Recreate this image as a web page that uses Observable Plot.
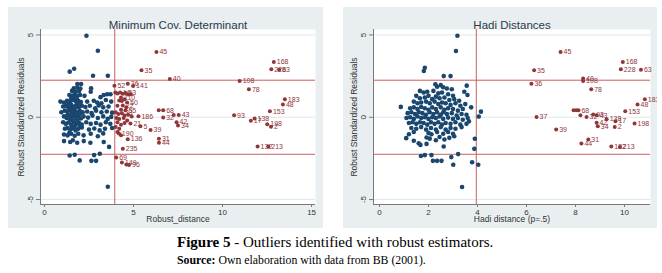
<!DOCTYPE html>
<html><head><meta charset="utf-8">
<script src="https://cdn.jsdelivr.net/npm/d3@7"></script>
<script src="https://cdn.jsdelivr.net/npm/@observablehq/plot@0.6"></script>
<style>
body{margin:0;background:#fff;width:662px;height:273px;position:relative;overflow:hidden;font-family:"Liberation Sans",Arial,sans-serif}
.panel{position:absolute;background:#e9eff1}
.panel svg{display:block}
#fig{position:absolute;left:177px;top:234px;font-family:"Liberation Serif","Times New Roman",serif;font-size:15px;color:#000;white-space:nowrap}
#src{position:absolute;left:177px;top:253px;font-family:"Liberation Serif","Times New Roman",serif;font-size:11.8px;color:#000;white-space:nowrap}
</style></head>
<body>
<div id="p1" class="panel" style="left:8px;top:7px;width:315px;height:221px"></div>
<div id="p2" class="panel" style="left:343px;top:7px;width:314px;height:221px"></div>
<div id="fig"><b>Figure 5</b> - Outliers identified with robust estimators.</div>
<div id="src"><b>Source:</b> Own elaboration with data from BB (2001).</div>
<script>
// ---- data ----
const yTicks = [-5, 0, 5];
const yDomain = [-5.3, 5.33];
const cutoffY = [2.25, -2.25];
const cutoffX = [3.95];
const mcdXTicks = [0, 5, 10, 15];
const mcdXDomain = [-0.22, 15.22];
const hadiXTicks = [0, 2, 4, 6, 8, 10];
const hadiXDomain = [-0.245, 11.06];
const titles = ["Minimum Cov. Determinant", "Hadi Distances"];
const xLabels = ["Robust_distance", "Hadi distance (p=.5)"];
const yLabel = "Robust Standardized Residuals";

const mcdInliers = [
[2.36,4.95],[3.0,4.04],[1.42,2.77],[1.67,2.95],[2.73,2.52],[3.56,2.52],
[1.85,2.02],[2.06,2.02],[1.65,1.76],[1.84,1.8],[2.02,1.75],[2.62,1.76],[2.60,1.55],[1.55,1.6],[1.75,1.55],[1.95,1.6],
[1.4,1.35],[1.55,1.3],[1.7,1.38],[1.85,1.3],[2.0,1.35],[2.25,1.3],[3.15,1.22],[3.33,1.35],[3.52,1.4],[3.71,1.4],
[0.9,0.95],[1.1,0.9],[1.27,1.0],[1.45,0.95],[1.6,1.05],[1.75,0.98],[1.9,1.0],[2.05,0.92],[2.4,0.95],[2.77,1.0],[2.96,0.9],[3.2,0.85],[3.45,1.05],[3.75,0.95],
[1.05,0.65],[1.2,0.7],[1.35,0.6],[1.5,0.75],[1.62,0.65],[1.78,0.72],[1.92,0.6],[2.1,0.7],[2.3,0.62],[2.55,0.7],[2.85,0.55],[3.05,0.72],[3.3,0.6],[3.6,0.65],
[0.95,0.3],[1.15,0.4],[1.3,0.35],[1.45,0.42],[1.55,0.28],[1.7,0.38],[1.82,0.3],[1.98,0.4],[2.15,0.3],[2.4,0.35],[2.65,0.25],[2.9,0.4],[3.2,0.3],[3.5,0.35],[3.8,0.28],
[1.1,0.05],[1.25,-0.05],[1.4,0.1],[1.52,-0.02],[1.65,0.08],[1.78,-0.05],[1.9,0.05],[2.05,-0.08],[2.2,0.05],[2.45,-0.02],[2.7,0.1],[3.0,-0.05],[3.3,0.05],[3.55,-0.1],[3.75,0.02],
[1.05,-0.3],[1.2,-0.4],[1.35,-0.32],[1.5,-0.45],[1.65,-0.3],[1.8,-0.4],[1.95,-0.35],[2.1,-0.45],[2.35,-0.3],[2.6,-0.4],[2.9,-0.35],[3.15,-0.45],[3.45,-0.3],[3.7,-0.4],
[1.15,-0.7],[1.3,-0.65],[1.45,-0.75],[1.6,-0.68],[1.75,-0.8],[1.9,-0.7],[2.1,-0.62],[2.5,-0.75],[2.8,-0.68],[3.1,-0.8],[3.4,-0.7],[3.8,-0.65],
[1.1,-1.05],[1.3,-1.1],[1.5,-1.0],[1.7,-1.12],[1.9,-1.0],[2.2,-1.1],[2.6,-1.0],[3.0,-1.15],[3.3,-0.98],
[1.1,-1.45],[1.45,-1.5],[1.6,-1.4],[1.84,-1.55],[2.21,-1.45],[2.58,-1.55],[3.33,-1.5],[3.63,-1.8],
[1.42,-2.32],[1.70,-2.28],[1.98,-2.62],[2.64,-2.65],[2.90,-2.65],[2.79,-2.3],[3.11,-2.22],[3.56,-4.22],
[1.4,0.55],[1.55,0.5],[1.7,0.55],[1.85,0.85],[1.6,0.2],[1.75,0.15],[1.45,-0.15],[1.6,-0.2],[1.85,-0.2],[1.35,0.85],
[1.5,1.15],[1.65,1.2],[1.8,1.15],[2.0,0.2],[1.3,0.15],[1.7,-0.55],[1.55,-0.6],[1.4,-0.95],[2.0,-0.55],[1.95,0.85]
];

const mcdOutliers = [
[3.93,1.92,"52"],[4.68,2.04,"36"],[4.98,1.9,"141"],[5.45,2.85,"35"],[6.29,3.96,"45"],[7.04,2.32,"40"],
[3.98,1.5,""],[4.1,1.45,""],[4.25,1.5,"16"],[4.4,1.42,""],[4.55,1.48,"63"],[4.7,1.38,""],[4.85,1.4,""],
[4.3,1.2,"110"],[4.5,1.1,""],[4.2,1.02,""],[4.35,0.98,""],[4.64,0.89,"50"],
[4.1,0.7,""],[4.4,0.72,"22"],[4.6,0.6,""],[4.55,0.42,"55"],[4.3,0.45,""],[4.0,0.3,""],[4.15,0.2,""],[4.35,0.25,"33"],
[4.5,0.1,""],[4.7,0.15,""],[4.9,0.05,""],[4.05,-0.05,""],[4.2,-0.1,""],[4.45,-0.05,""],[4.65,-0.2,""],[4.83,-0.38,"21"],
[4.1,-0.3,""],[4.3,-0.45,""],[4.5,-0.35,""],[4.0,-0.6,""],[4.2,-0.7,""],
[4.18,-0.99,"190"],[4.1,-0.9,""],[4.3,-1.1,""],[4.68,-1.33,"136"],[4.4,-1.92,"235"],[4.03,-2.45,"69"],
[4.35,-2.75,"149"],[4.6,-2.87,""],[4.75,-2.9,"96"],
[5.28,0.06,"186"],[5.39,-0.55,"5"],[5.96,-0.77,"39"],[6.42,0.42,""],[6.67,0.42,"68"],[6.67,-0.02,"32"],
[7.26,0.14,""],[7.54,0.14,"43"],[7.42,-0.3,"42"],[7.5,-0.5,"34"],[6.43,-1.31,"31"],[6.43,-1.55,"44"],
[12.88,3.35,"168"],[12.74,2.91,"228"],[13.18,2.89,"63"],[10.96,2.2,"108"],[11.48,1.7,"78"],[13.5,1.09,"183"],
[13.39,0.77,"48"],[12.66,0.36,"153"],[10.65,0.12,"93"],[11.8,-0.08,"138"],[11.59,-0.22,"17"],[12.51,-0.42,"198"],
[12.72,-0.57,"2"],[11.97,-1.77,"132"],[12.57,-1.78,"213"]
];

const hadiInliers = [
[3.18,4.95],[3.12,4.02],[1.85,3.01],[1.81,2.81],[2.62,2.5],[2.9,2.5],[0.87,0.63],[4.14,0.34],[4.05,0.04],[3.74,0.6],
[3.56,1.92],[3.59,1.35],[3.46,1.55],[3.89,-1.31],[3.87,-1.92],[3.78,-2.73],[4.03,-2.89],[3.37,-4.24],[3.21,-2.24],
[3.01,-2.89],[2.93,-2.42],[2.62,-1.78],[1.69,-2.35],[1.85,-2.3],[2.12,-2.3],[2.18,-2.65],[2.35,-2.65],[2.53,-2.65],
[1.09,-1.27],[1.2,-1.03],[1.4,-1.43],[1.6,-1.58],[1.67,-1.68],[1.92,-1.62],[1.92,-1.23],[2.12,-1.03],
[2.28,2.0],[2.35,1.85],[2.5,1.95],[2.6,1.82],[2.75,1.75],[2.95,1.7],[1.65,1.6],[1.8,1.5],[1.95,1.55],[2.2,1.6],
[2.4,1.45],[2.55,1.5],[2.8,1.4],[3.0,1.3],[1.5,1.3],[1.65,1.15],[1.85,1.2],[2.0,1.3],[2.15,1.1],[2.3,1.25],
[2.45,1.15],[2.65,1.2],[2.85,1.05],[3.05,1.1],[3.25,1.0],[1.4,0.95],[1.55,0.85],[1.7,0.9],[1.9,0.95],[2.05,0.85],
[2.25,0.95],[2.4,0.8],[2.55,0.9],[2.7,0.85],[2.9,0.75],[3.1,0.85],[3.3,0.7],[3.5,0.8],[1.25,0.55],[1.4,0.6],
[1.55,0.5],[1.7,0.62],[1.85,0.55],[2.0,0.45],[2.15,0.6],[2.3,0.5],[2.5,0.6],[2.65,0.45],[2.8,0.55],[3.0,0.5],
[3.2,0.4],[3.4,0.5],[1.15,0.25],[1.3,0.3],[1.45,0.2],[1.6,0.32],[1.75,0.25],[1.9,0.15],[2.05,0.3],[2.2,0.2],
[2.35,0.3],[2.5,0.15],[2.6,0.3],[2.75,0.2],[2.95,0.25],[3.15,0.1],[3.35,0.2],[3.55,0.15],[1.1,-0.05],[1.25,0.0],
[1.4,-0.1],[1.55,0.05],[1.7,-0.05],[1.85,0.0],[2.0,-0.1],[2.15,0.0],[2.3,-0.05],[2.45,0.05],[2.6,-0.1],[2.8,-0.02],
[3.0,-0.1],[3.2,-0.05],[3.4,-0.15],[3.6,-0.05],[1.2,-0.35],[1.35,-0.3],[1.5,-0.4],[1.65,-0.3],[1.8,-0.35],[1.95,-0.45],
[2.1,-0.3],[2.25,-0.4],[2.4,-0.3],[2.55,-0.45],[2.7,-0.35],[2.9,-0.4],[3.1,-0.3],[3.3,-0.45],[3.55,-0.4],[3.65,-0.25],
[1.3,-0.65],[1.5,-0.7],[1.7,-0.6],[1.9,-0.75],[2.1,-0.65],[2.3,-0.75],[2.5,-0.6],[2.7,-0.75],[2.9,-0.65],[3.1,-0.7],
[3.35,-0.6],[1.4,-0.9],[2.0,-0.95],[2.35,-0.9],[2.6,-1.0],[2.8,-0.9],[3.0,-1.0],[2.45,-1.2],[2.65,-1.35],[2.85,-1.25],
[3.05,-1.15],[2.3,-1.4],[2.05,-1.3]
];

const hadiOutliers = [
[7.39,3.96,"45"],[6.31,2.85,"35"],[6.2,2.04,"36"],[8.31,2.35,"40"],[8.31,2.2,"108"],[8.64,1.7,"78"],
[9.93,3.35,"168"],[9.85,2.91,"228"],[10.67,2.89,"63"],[10.83,1.09,"183"],[10.53,0.77,"48"],[10.03,0.36,"153"],
[6.41,0.02,"37"],[7.92,0.42,""],[8.03,0.42,""],[8.12,0.42,"68"],[8.2,0.12,""],[8.45,0.02,"32"],[8.72,0.16,"93"],
[8.86,0.12,"43"],[9.27,-0.12,"138"],[9.63,-0.24,"17"],[8.86,-0.34,"42"],[8.91,-0.55,"34"],[9.6,-0.59,"2"],
[10.41,-0.38,"198"],[7.21,-0.75,"39"],[8.52,-1.35,"31"],[8.24,-1.6,"44"],[9.46,-1.78,"132"],[9.81,-1.8,"213"]
];

// ---- styles ----
const BLUE = "#1a476f", RED = "#90353b", LINE = "#c8605e", AX = "#7a7a7a", TXT = "#333";

function panel({inliers, outliers, xDomain, xTicks, title, xLabel, width, marginLeft, marginRight}) {
  return Plot.plot({
    width, height: 221, marginLeft, marginRight, marginTop: 22, marginBottom: 24,
    x: {domain: xDomain}, y: {domain: yDomain},
    style: {background: "transparent", fontFamily: "'Liberation Sans', Arial, sans-serif", color: TXT},
    marks: [
      Plot.frame({fill: "white", stroke: "none"}),
      Plot.gridY(yTicks, {stroke: "#dfe7ea", strokeOpacity: 1}),
      Plot.ruleX([xDomain[0]], {stroke: AX}),
      Plot.ruleY([yDomain[0]], {stroke: AX}),
      Plot.axisX({ticks: xTicks, tickSize: 3, tickPadding: 2, fontSize: 8, label: null, stroke: AX}),
      Plot.axisY({ticks: yTicks, tickSize: 4, tickFormat: () => "", label: null, stroke: AX}),
      Plot.text(yTicks, {y: d => d, frameAnchor: "left", textAnchor: "middle", dx: -10, rotate: -90, fontSize: 8, text: d => String(d), fill: TXT}),
      Plot.text([yLabel], {frameAnchor: "left", textAnchor: "middle", dx: -19, rotate: -90, fontSize: 8.5, fill: TXT}),
      Plot.text([xLabel], {frameAnchor: "bottom", dy: 17, fontSize: 8.5, fill: TXT}),
      Plot.text([title], {frameAnchor: "top", dy: -9, fontSize: 11.5, fill: "#2b3a4a"}),
      Plot.ruleY(cutoffY, {stroke: LINE, strokeWidth: 1}),
      Plot.ruleX(cutoffX, {stroke: LINE, strokeWidth: 1}),
      Plot.dot(inliers, {x: d => d[0], y: d => d[1], r: 2.3, fill: BLUE, stroke: "none"}),
      Plot.dot(outliers, {x: d => d[0], y: d => d[1], r: 2, fill: RED, stroke: "none"}),
      Plot.text(outliers, {x: d => d[0], y: d => d[1], text: d => d[2], dx: 3, textAnchor: "start", fontSize: 7, fill: RED})
    ]
  });
}

document.getElementById("p1").append(panel({
  inliers: mcdInliers, outliers: mcdOutliers, xDomain: mcdXDomain, xTicks: mcdXTicks,
  title: titles[0], xLabel: xLabels[0], width: 315, marginLeft: 32, marginRight: 8
}));
document.getElementById("p2").append(panel({
  inliers: hadiInliers, outliers: hadiOutliers, xDomain: hadiXDomain, xTicks: hadiXTicks,
  title: titles[1], xLabel: xLabels[1], width: 314, marginLeft: 30, marginRight: 7
}));
</script>
</body></html>
